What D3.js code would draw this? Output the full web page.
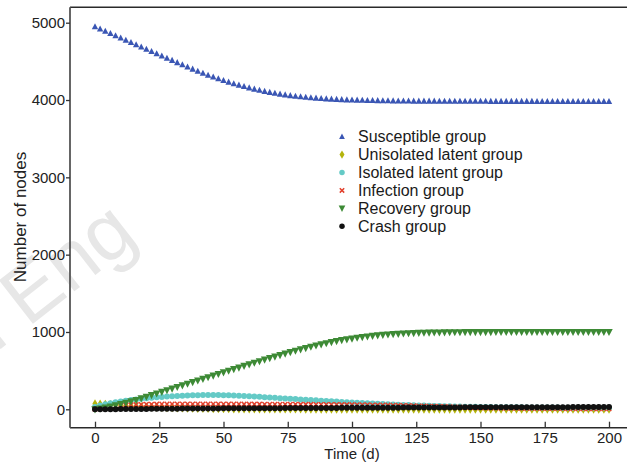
<!DOCTYPE html>
<html>
<head>
<meta charset="utf-8">
<script src="https://cdn.jsdelivr.net/npm/d3@7"></script>
<style>
  body { margin: 0; background: #fff; }
  svg { display: block; font-family: Arial, "Liberation Sans", Helvetica, sans-serif; }
</style>
</head>
<body>
<svg id="chart" width="627" height="462"></svg>
<script>
// Time steps (days)
const time = [0,2,4,6,8,10,12,14,16,18,20,22,24,26,28,30,32,34,36,38,40,42,44,46,48,50,
  52,54,56,58,60,62,64,66,68,70,72,74,76,78,80,82,84,86,88,90,92,94,96,98,100,
  102,104,106,108,110,112,114,116,118,120,122,124,126,128,130,132,134,136,138,140,
  142,144,146,148,150,152,154,156,158,160,162,164,166,168,170,172,174,176,178,180,
  182,184,186,188,190,192,194,196,198,200];

const susceptible = [4948,4919,4890,4861,4832,4803,4774,4745,4716,4687,4658,4629,4600,4571,4542,4513,
  4484,4456,4428,4400,4373,4347,4322,4298,4275,4253,4232,4212,4193,4175,4158,4142,4127,4113,4100,
  4088,4077,4067,4058,4050,4043,4036,4030,4025,4020,4016,4012,4009,4006,4003,4001,3999,3997,3995,
  3994,3993,3992,3991,3990,3989,3988,3988,3987,3987,3986,3986,3986,3985,3985,3985,3985,3984,3984,
  3984,3984,3984,3984,3983,3983,3983,3983,3983,3983,3983,3983,3983,3982,3982,3982,3982,3982,3982,
  3982,3982,3982,3982,3982,3982,3982,3982,3982];

const unisolatedLatent = [72,70,67,63,58,53,48,43,39,35,31,28,25,22,20,18,16,14,12,11,10,9,8,7,6,5,
  5,4,4,3,3,3,2,2,2,2,1,1,1,1,1,
  0,0,0,0,0,0,0,0,0,0,0,0,0,0,0,0,0,0,0,0,0,0,0,0,0,0,0,0,0,0,
  0,0,0,0,0,0,0,0,0,0,0,0,0,0,0,0,0,0,0,0,0,0,0,0,0,0,0,0,0,0];

const isolatedLatent = [30,48,64,78,90,101,111,120,128,136,143,149,155,160,165,169,173,176,179,181,
  183,184,185,185,184,183,181,179,176,173,169,165,161,157,152,148,144,140,136,132,128,124,120,116,
  112,108,104,100,96,92,88,85,82,78,75,72,69,66,63,60,57,55,52,50,48,46,44,42,40,38,37,35,34,33,
  32,31,30,29,28,27,27,26,25,25,24,24,23,23,22,22,22,21,21,21,21,20,20,20,20,20,20];

const infection = [5,14,24,33,41,48,53,57,60,62,64,65,66,67,67,68,68,68,68,68,68,68,68,68,68,67,
  67,67,67,66,66,66,66,65,65,65,65,64,64,64,63,63,63,62,62,62,61,61,60,60,60,
  59,58,57,56,55,54,53,51,50,48,47,45,43,42,40,38,36,34,32,30,28,26,24,22,20,
  19,18,17,16,15,15,14,13,13,12,12,11,11,10,10,10,9,9,9,8,8,8,7,7,7];

const recovery = [0,10,22,36,51,67,84,102,121,141,162,183,204,225,246,267,288,309,330,351,372,393,
  414,435,456,477,498,519,540,561,582,602,622,642,662,682,701,720,739,757,775,792,809,825,840,855,
  869,882,894,905,915,925,934,942,949,956,962,967,972,976,980,983,986,988,990,992,993,994,995,996,
  997,997,998,998,999,999,999,999,1000,1000,1000,1000,1000,1000,1000,1000,1000,1000,1000,1000,
  1000,1000,1000,1000,1000,1000,1000,1000,1000,1000,1000];

const crash = [0,1,1,2,2,3,3,4,4,5,5,6,6,7,7,8,8,9,9,10,10,10,11,11,11,12,12,12,13,13,13,14,14,14,
  15,15,15,16,16,16,17,17,17,17,18,18,18,18,19,19,19,
  19,20,20,20,20,21,21,21,21,22,22,22,22,23,23,23,23,24,24,24,24,25,25,25,25,
  25,26,26,26,26,26,27,27,27,27,27,28,28,28,28,28,28,29,29,29,29,29,29,30,30];

const seriesNames = ["Susceptible group", "Unisolated latent group", "Isolated latent group",
  "Infection group", "Recovery group", "Crash group"];
const xTicks = [0, 25, 50, 75, 100, 125, 150, 175, 200];
const yTicks = [0, 1000, 2000, 3000, 4000, 5000];

// Marker shapes, one per series
const shapes = {
  triUp: s => `M0,${-s*0.6}L${s*0.55},${s*0.45}L${-s*0.55},${s*0.45}Z`,
  triDown: s => `M0,${s*0.6}L${s*0.55},${-s*0.45}L${-s*0.55},${-s*0.45}Z`,
  diamond: s => `M0,${-s*0.55}L${s*0.33},0L0,${s*0.55}L${-s*0.33},0Z`,
  circle: s => `M${s/2},0A${s/2},${s/2} 0 1,1 ${-s/2},0A${s/2},${s/2} 0 1,1 ${s/2},0Z`,
  cross: s => `M${-s/2},${-s/2}L${s/2},${s/2}M${s/2},${-s/2}L${-s/2},${s/2}`
};

const series = [
  { name: seriesNames[0], values: susceptible,      shape: "triUp",   color: "#3a56b4", size: 5.8, legendSize: 5.2 },
  { name: seriesNames[1], values: unisolatedLatent, shape: "diamond", color: "#b4b40c", size: 8,   legendSize: 7.5 },
  { name: seriesNames[2], values: isolatedLatent,   shape: "circle",  color: "#64cac6", size: 6,   legendSize: 5.5 },
  { name: seriesNames[3], values: infection,        shape: "cross",   color: "#e2402c", size: 4.6, legendSize: 4.4 },
  { name: seriesNames[4], values: recovery,         shape: "triDown", color: "#3d8a35", size: 6.8, legendSize: 6 },
  { name: seriesNames[5], values: crash,            shape: "circle",  color: "#111111", size: 6,   legendSize: 5.5 }
];

const svg = d3.select("#chart");

// Faint diagonal watermark
svg.append("text")
  .attr("transform", "translate(140,240) rotate(-38)")
  .attr("text-anchor", "end")
  .attr("font-size", 80)
  .attr("fill", "#e7e7e7")
  .text("n Eng");

const x = d3.scaleLinear().domain([0, 200]).range([95, 609]);
const y = d3.scaleLinear().domain([0, 5000]).range([409.3, 22.7]);

const frameLeft = 70, frameTop = 7.3, frameBottom = 427.7, frameRight = 627;

// Frame
svg.append("line").attr("x1", frameLeft).attr("x2", frameRight).attr("y1", frameTop).attr("y2", frameTop)
  .attr("stroke", "#2a2a2a").attr("stroke-width", 1.5);
svg.append("line").attr("x1", frameLeft).attr("x2", frameRight).attr("y1", frameBottom).attr("y2", frameBottom)
  .attr("stroke", "#2a2a2a").attr("stroke-width", 1.5);
svg.append("line").attr("x1", frameLeft).attr("x2", frameLeft).attr("y1", frameTop).attr("y2", frameBottom)
  .attr("stroke", "#555").attr("stroke-width", 1.8);

// Axes
const yAxis = svg.append("g").attr("transform", `translate(${frameLeft},0)`)
  .call(d3.axisLeft(y).tickValues(yTicks).tickSize(4).tickPadding(1).tickFormat(d3.format("d")));
const xAxis = svg.append("g").attr("transform", `translate(0,${frameBottom})`)
  .call(d3.axisBottom(x).tickValues(xTicks).tickSizeInner(-6).tickSizeOuter(0).tickPadding(5));
[yAxis, xAxis].forEach(g => {
  g.select(".domain").remove();
  g.selectAll(".tick line").attr("stroke", "#333").attr("stroke-width", 1.3);
  g.selectAll(".tick text").attr("font-size", 15).attr("fill", "#222")
    .attr("font-family", "Arial, 'Liberation Sans', sans-serif");
});

// Axis titles
svg.append("text").attr("x", 352).attr("y", 459).attr("text-anchor", "middle")
  .attr("font-size", 15).attr("fill", "#222").text("Time (d)");
svg.append("text").attr("transform", "translate(26,217) rotate(-90)").attr("text-anchor", "middle")
  .attr("font-size", 17).attr("fill", "#222").text("Number of nodes");

// Series markers
function drawMarker(sel, s, size) {
  if (s.shape === "cross") {
    sel.attr("d", shapes.cross(size)).attr("fill", "none")
      .attr("stroke", s.color).attr("stroke-width", 1.5);
  } else {
    sel.attr("d", shapes[s.shape](size)).attr("fill", s.color);
  }
}

series.forEach(s => {
  svg.append("g").selectAll("path")
    .data(time.map((t, i) => ({ t, v: s.values[i] })))
    .join("path")
    .attr("transform", d => `translate(${x(d.t)},${y(d.v)})`)
    .call(sel => drawMarker(sel, s, s.size));
});

// Legend
const legend = svg.append("g");
series.forEach((s, i) => {
  const row = legend.append("g").attr("transform", `translate(342,${136.7 + i * 17.9})`);
  row.append("path").call(sel => drawMarker(sel, s, s.legendSize));
  row.append("text").attr("x", 16).attr("dy", "0.36em").attr("font-size", 16)
    .attr("fill", "#1a1a1a").text(s.name);
});
</script>
</body>
</html>
